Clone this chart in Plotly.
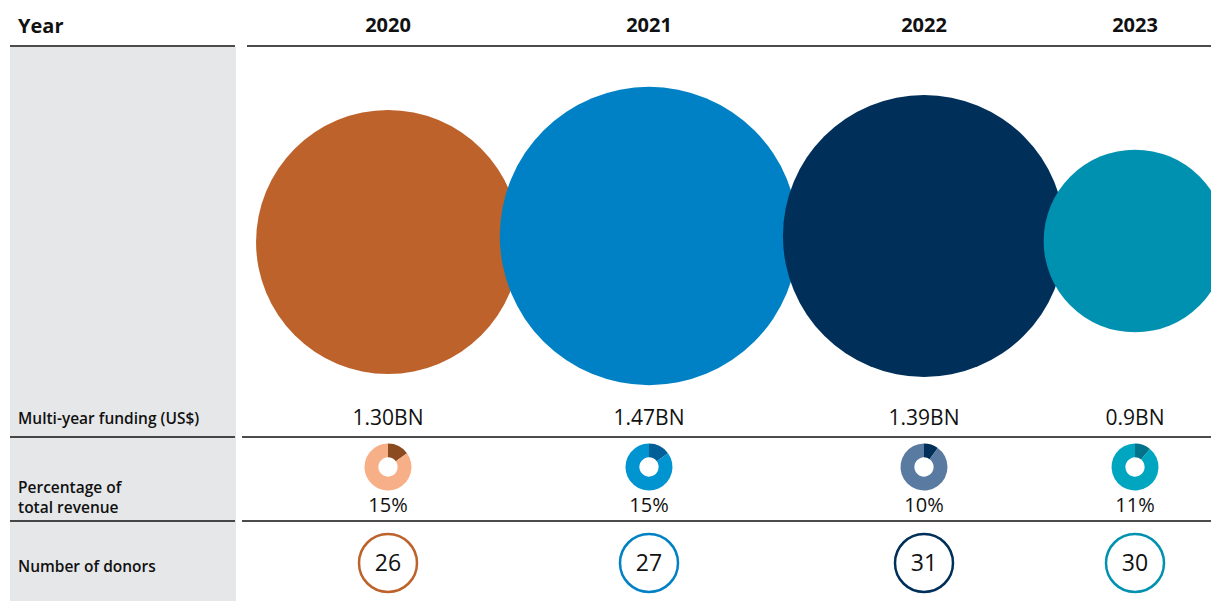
import plotly.graph_objects as go

# ---- data ----
years = ["2020", "2021", "2022", "2023"]
funding_bn = [1.30, 1.47, 1.39, 0.9]
funding_labels = ["1.30BN", "1.47BN", "1.39BN", "0.9BN"]
pct_of_revenue = [15, 15, 10, 11]
donors = [26, 27, 31, 30]

# ---- layout constants (pixel space) ----
W, H = 1211, 601
col_x = [388, 649, 924, 1135]
bubble_y = [242, 236, 236, 241]
px_per_bn = 203          # bubble diameter per US$ 1BN
donut_y = 467
donut_r = 23.5
pct_y = 507
value_y = 420
donor_y = 563
header_y = 27

main_colors = ["#BD622A", "#0081C5", "#00305A", "#0091B1"]
donut_base = ["#F7AF87", "#0095D0", "#5A7BA1", "#00A5C0"]
donut_seg = ["#8C4A20", "#005F97", "#00305A", "#00738A"]

FONT = "Open Sans"
INK = "#111111"

fig = go.Figure()

# bubbles for multi-year funding (later years drawn on top)
fig.add_trace(go.Scatter(
    x=col_x, y=bubble_y, mode="markers",
    marker=dict(size=[v * px_per_bn for v in funding_bn], sizemode="diameter",
                color=main_colors, opacity=1, line=dict(width=0)),
    hoverinfo="skip", showlegend=False,
))

# funding value labels
fig.add_trace(go.Scatter(
    x=col_x, y=[value_y] * 4, mode="text", text=funding_labels,
    textposition="middle center",
    textfont=dict(family=FONT, size=21, color=INK, weight=500),
    hoverinfo="skip", showlegend=False,
))

# year headers
fig.add_trace(go.Scatter(
    x=col_x, y=[header_y] * 4, mode="text", text=years,
    textposition="middle center",
    textfont=dict(family=FONT, size=20, color=INK, weight=700),
    hoverinfo="skip", showlegend=False,
))

# percentage labels
fig.add_trace(go.Scatter(
    x=col_x, y=[pct_y] * 4, mode="text", text=[f"{p}%" for p in pct_of_revenue],
    textposition="middle center",
    textfont=dict(family=FONT, size=20, color=INK, weight=500),
    hoverinfo="skip", showlegend=False,
))

# donor count rings
fig.add_trace(go.Scatter(
    x=col_x, y=[donor_y] * 4, mode="markers",
    marker=dict(size=58, color="white", line=dict(width=2.5, color=main_colors)),
    hoverinfo="skip", showlegend=False,
))
fig.add_trace(go.Scatter(
    x=col_x, y=[donor_y + 2] * 4, mode="text", text=[str(d) for d in donors],
    textposition="middle center",
    textfont=dict(family=FONT, size=23, color=INK),
    hoverinfo="skip", showlegend=False,
))

# donuts for share of total revenue
for cx, p, base, seg in zip(col_x, pct_of_revenue, donut_base, donut_seg):
    fig.add_trace(go.Pie(
        values=[p, 100 - p], sort=False, direction="clockwise", rotation=0,
        marker=dict(colors=[seg, base], line=dict(width=0)),
        hole=0.41, textinfo="none", hoverinfo="skip", showlegend=False,
        domain=dict(x=[(cx - donut_r) / W, (cx + donut_r) / W],
                    y=[1 - (donut_y + donut_r) / H, 1 - (donut_y - donut_r) / H]),
    ))

shapes = [
    # grey label panel
    dict(type="rect", xref="x", yref="y", x0=10, x1=236, y0=47, y1=H,
         fillcolor="#E6E7E8", line=dict(width=0), layer="below"),
]
# row separators
for yy, right_start in [(46, 247), (437, 242), (521, 242)]:
    shapes.append(dict(type="line", xref="x", yref="y", x0=10, x1=235, y0=yy, y1=yy,
                       line=dict(color=INK, width=1.5)))
    shapes.append(dict(type="line", xref="x", yref="y", x0=right_start, x1=W, y0=yy, y1=yy,
                       line=dict(color=INK, width=1.5)))

label_font = dict(family=FONT, size=15.5, color=INK, weight=600)
annotations = [
    dict(x=16, y=header_y - 2, xref="x", yref="y", text="Year", showarrow=False,
         xanchor="left", yanchor="middle",
         font=dict(family=FONT, size=20, color=INK, weight=700)),
    dict(x=16, y=418, xref="x", yref="y", text="Multi-year funding (US$)", showarrow=False,
         xanchor="left", yanchor="middle", font=label_font),
    dict(x=16, y=497, xref="x", yref="y", text="Percentage of<br>total revenue", showarrow=False,
         xanchor="left", yanchor="middle", align="left", font=label_font),
    dict(x=16, y=566, xref="x", yref="y", text="Number of donors", showarrow=False,
         xanchor="left", yanchor="middle", font=label_font),
]

fig.update_layout(
    width=W, height=H, margin=dict(l=0, r=0, t=0, b=0),
    paper_bgcolor="white", plot_bgcolor="white",
    xaxis=dict(range=[0, W], visible=False, fixedrange=True),
    yaxis=dict(range=[H, 0], visible=False, fixedrange=True),
    shapes=shapes, annotations=annotations,
)

fig.write_html("out.html")
